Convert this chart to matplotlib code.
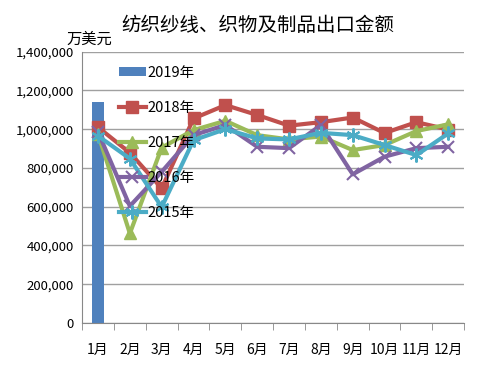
import matplotlib
matplotlib.use("Agg")
import matplotlib.pyplot as plt
import numpy as np

plt.rcParams['font.family'] = ['Noto Sans CJK SC', 'DejaVu Sans']

months = ['1月', '2月', '3月', '4月', '5月', '6月', '7月', '8月', '9月', '10月', '11月', '12月']
v2019 = [1140000]
v2018 = [1010000, 878000, 695000, 1055000, 1124000, 1073000, 1018000, 1036000, 1060000, 980000, 1036000, 998000]
v2017 = [975000, 462000, 905000, 995000, 1043000, 969000, 947000, 962000, 892000, 918000, 990000, 1025000]
v2016 = [985000, 603000, 780000, 969000, 1021000, 909000, 902000, 1021000, 767000, 858000, 902000, 909000]
v2015 = [965000, 848000, 598000, 943000, 1000000, 952000, 947000, 981000, 969000, 918000, 866000, 978000]

fig = plt.figure(figsize=(4.83, 3.66), dpi=100)
ax = fig.add_axes([0.170, 0.1175, 0.791, 0.7415])

x = np.arange(len(months))
h19 = ax.bar(x[:len(v2019)], v2019, width=0.4, color='#4F81BD', label='2019年', zorder=2)
lw = 3
h18, = ax.plot(x, v2018, color='#C0504D', lw=lw, marker='s', ms=9, label='2018年', zorder=3)
h17, = ax.plot(x, v2017, color='#9BBB59', lw=lw, marker='^', ms=9, label='2017年', zorder=3)
h16, = ax.plot(x, v2016, color='#8064A2', lw=lw, marker='x', ms=9, mew=1.5, label='2016年', zorder=3)
h15, = ax.plot(x, v2015, color='#4BACC6', lw=lw, marker=(6, 2, 0), ms=10, mew=1.5, label='2015年', zorder=3)

ax.set_xlim(-0.5, len(months) - 0.5)
ax.set_ylim(0, 1400000)
ax.set_yticks(np.arange(0, 1400001, 200000))
ax.set_yticklabels([f'{int(v):,}' for v in np.arange(0, 1400001, 200000)], fontsize=9.5)
ax.set_xticks(x)
ax.set_xticklabels(months, fontsize=10)
ax.set_xticks(np.arange(-0.5, len(months), 1), minor=True)
ax.tick_params(axis='x', which='major', length=0, pad=14)
ax.tick_params(axis='x', which='minor', length=5, color='#888888')
ax.tick_params(axis='y', length=0, pad=6)

ax.grid(axis='y', color='#A0A0A0', lw=1, zorder=0)
ax.set_axisbelow(True)
for s in ['top', 'right']:
    ax.spines[s].set_visible(False)
ax.spines['left'].set_color('#888888')
ax.spines['bottom'].set_color('#888888')

ax.legend(handles=[h19, h18, h17, h16, h15], loc='upper left', bbox_to_anchor=(0.08, 0.97),
          frameon=False, fontsize=10.5, labelspacing=1.45, handlelength=1.9, handleheight=0.6,
          handletextpad=0.1, borderaxespad=0)

fig.text(0.533, 0.93, '纺织纱线、织物及制品出口金额', ha='center', va='center', fontsize=14)
fig.text(0.138, 0.893, '万美元', ha='left', va='center', fontsize=11)

fig.savefig('out.png', dpi=100)
